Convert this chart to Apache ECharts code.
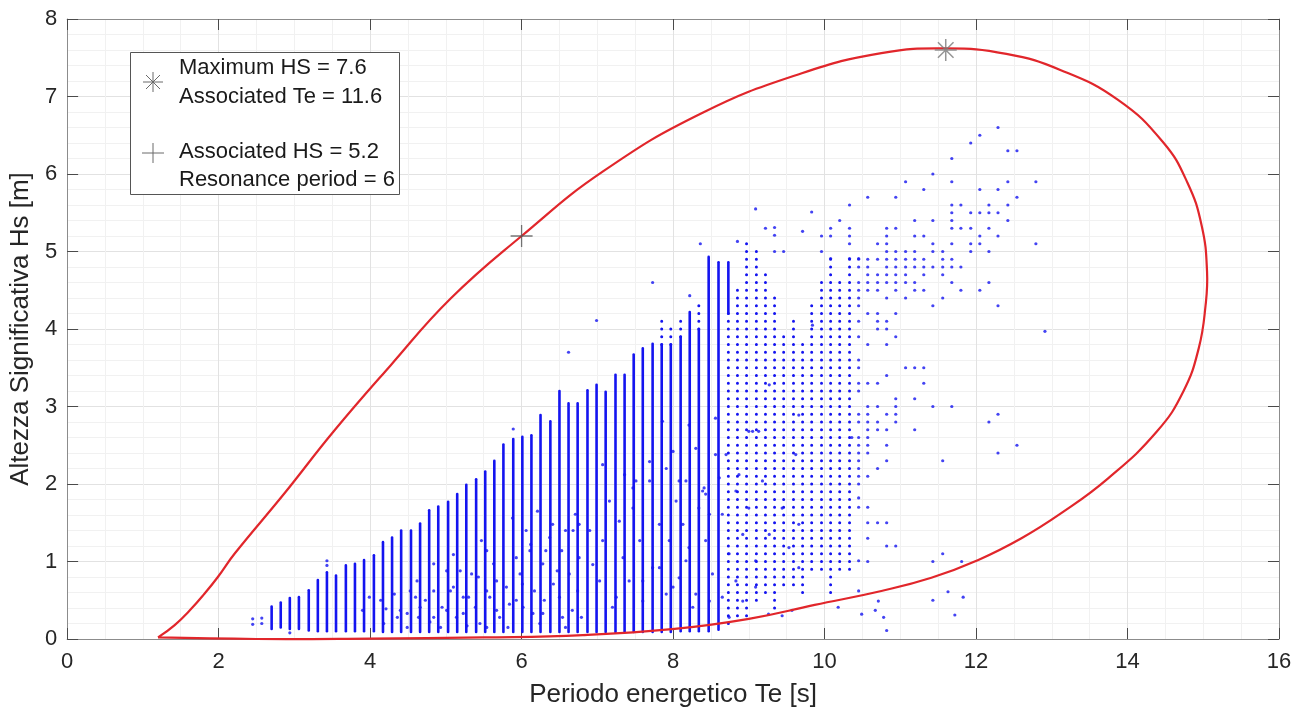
<!DOCTYPE html>
<html><head><meta charset="utf-8">
<script src="https://cdn.jsdelivr.net/npm/echarts@6/dist/echarts.min.js"></script>
<style>html,body{margin:0;padding:0;background:#fff}#c{width:1298px;height:713px}</style>
</head><body><div id="c"></div>
<script>
// ---- Contour (red) ----
const contourTe = [1.20,1.42,1.62,1.81,1.99,2.21,2.87,3.52,4.27,5.06,6.00,7.07,8.39,9.70,10.75,11.60,12.40,13.12,13.87,14.47,14.79,14.98,15.05,15.03,14.94,14.74,14.39,13.74,13.12,12.60,12.03,11.41,10.75,9.87,9.00,8.02,6.81,5.50,4.00,2.50,1.20];
const contourHs = [0.02,0.18,0.37,0.58,0.80,1.10,1.88,2.68,3.53,4.39,5.20,6.03,6.79,7.30,7.56,7.62,7.55,7.34,6.96,6.41,5.89,5.33,4.74,4.30,3.75,3.20,2.68,2.07,1.62,1.30,1.02,0.79,0.62,0.44,0.26,0.13,0.05,0.02,0.005,0.00,0.02];

// ---- Dense sea-state columns: Te, lowest Hs, highest Hs of solid run ----
const colTe   = [2.70,2.82,2.94,3.06,3.19,3.31,3.43,3.55,3.68,3.80,3.92,4.05,4.17,4.29,4.41,4.54,4.66,4.78,4.90,5.03,5.15,5.27,5.40,5.52,5.64,5.76,5.89,6.01,6.13,6.25,6.38,6.50,6.62,6.74,6.87,6.99,7.11,7.24,7.36,7.48,7.60,7.73,7.85,7.97,8.10,8.22,8.34,8.47,8.60,8.73];
const colLow  = [0.13,0.15,0.13,0.13,0.11,0.10,0.10,0.10,0.10,0.10,0.10,0.10,0.09,0.09,0.09,0.09,0.09,0.09,0.09,0.09,0.09,0.09,0.09,0.09,0.09,0.09,0.09,0.09,0.09,0.09,0.09,0.09,0.09,0.09,0.09,0.09,0.09,0.09,0.09,0.09,0.09,0.09,0.09,0.09,0.10,0.10,0.10,0.10,0.12,4.20];
const colHigh = [0.42,0.47,0.53,0.54,0.63,0.76,0.86,0.82,0.95,0.97,1.02,1.08,1.25,1.31,1.40,1.40,1.49,1.66,1.71,1.77,1.87,1.99,2.06,2.16,2.30,2.51,2.58,2.61,2.63,2.89,2.81,3.20,3.04,3.04,3.21,3.28,3.19,3.41,3.41,3.67,3.75,3.81,3.80,3.80,3.90,4.22,4.00,4.93,4.86,4.86];

// ---- Dotted runs (states every 0.1 m): Te, from Hs, to Hs ----
const runTe   = [7.85,7.97,8.10,8.34,8.73,8.85,8.97,9.10,9.22,9.34,9.46,9.59,9.71,9.83,9.96,10.08,10.20,10.33];
const runFrom = [3.80,3.80,3.90,4.00,0.20,0.30,0.30,0.50,0.60,0.40,0.70,0.70,0.60,0.90,0.90,0.60,0.90,0.90];
const runTo   = [4.10,4.00,4.10,4.30,4.20,4.50,5.10,5.00,4.70,4.40,3.90,4.10,3.80,4.30,4.60,4.90,4.60,4.90];

// ---- Single points [Te, Hs] ----
const singlePts = [
 [2.45,0.19],[2.45,0.26],[2.57,0.20],[2.57,0.27],[2.94,0.08],[3.43,0.95],[3.43,1.01],[5.89,2.71],[6.62,3.70],[6.99,4.11],[7.73,4.60],[8.22,4.43],
 [3.90,0.37],[3.99,0.54],[4.14,0.50],[4.21,0.39],[4.32,0.58],[4.36,0.28],[4.49,0.33],[4.60,0.54],[4.62,0.75],[4.66,0.41],[4.84,0.97],[4.84,0.28],
 [4.93,0.15],[5.01,0.37],[5.10,1.09],[5.10,0.67],[5.19,0.88],[5.23,0.33],[5.30,0.54],[5.43,0.80],[5.47,1.27],[5.54,0.15],[5.58,0.54],[5.67,0.75],
 [5.71,0.28],[5.84,0.45],[5.88,1.56],[5.93,1.05],[6.01,0.71],[6.06,1.40],[6.12,1.22],[6.15,0.33],[6.21,1.65],[6.30,0.50],[6.32,1.14],[6.41,1.48],
 [6.47,0.88],[6.54,0.28],[6.58,1.40],[6.67,0.37],[6.71,1.61],[6.76,1.05],
 [4.53,0.62],[4.64,0.28],[4.73,0.50],[4.79,0.22],[4.95,0.41],[5.06,0.62],[5.14,0.28],[5.28,0.17],[5.34,0.84],[5.39,0.41],[5.54,0.62],[5.63,0.97],
 [5.67,0.37],[5.80,0.67],[5.82,0.15],[5.98,0.84],[6.02,0.41],[6.11,1.14],[6.17,0.62],[6.24,0.20],[6.28,0.97],[6.37,1.31],[6.42,0.71],[6.50,0.54],
 [6.53,1.14],[6.63,0.84],[6.68,1.40],[6.74,0.62],[6.79,0.28],[4.18,0.20],[4.40,0.37],[4.49,0.15],[4.84,0.62],[5.01,0.88],[5.23,0.54],[5.54,1.14],
 [5.45,0.20],[5.93,0.50],[6.28,0.33],[6.58,0.15],[6.76,1.48],
 [6.90,1.40],[6.94,0.96],[7.03,0.75],[7.07,1.27],[7.16,1.78],[7.20,0.41],[7.29,1.52],[7.34,1.05],[7.42,0.75],[7.47,1.69],[7.56,1.27],[7.60,0.49],
 [7.69,2.04],[7.73,0.92],[7.82,1.48],[7.91,0.58],[7.95,1.27],[8.04,1.78],[8.08,0.79],[8.17,2.04],[8.21,1.18],[8.30,0.58],[8.34,1.69],[8.41,1.95],
 [8.43,1.27],[8.52,0.84],[8.56,2.38],[8.65,1.61],[8.74,1.10],[8.83,0.75],[8.92,1.35],[9.00,1.69],[9.09,1.01],[9.18,2.04],[9.27,1.35],[9.44,1.69],
 [9.53,1.18],[9.66,1.48],
 [7.07,2.25],[7.36,2.12],[7.51,2.04],[7.47,1.95],[7.69,2.29],[7.86,2.81],[7.91,2.20],[8.00,2.42],[8.08,2.04],[8.13,1.48],[8.21,2.76],[8.30,2.46],
 [8.39,1.91],[8.43,1.87],[8.48,1.61],[8.56,2.85],[8.61,2.08],[8.70,2.38],[8.83,1.91],[8.87,2.12],[9.00,2.68],[9.05,2.68],[9.13,2.68],[9.27,3.28],
 [9.62,2.38],[9.66,2.89],[9.84,4.05],[7.25,0.54],[7.60,0.75],[7.82,0.92],[8.00,0.67],[8.17,1.01],[8.26,0.41],[8.48,0.49],[8.65,0.54],[8.74,0.28],
 [8.92,0.49],[9.09,0.67],[9.26,0.32],[9.44,0.30],[9.57,0.37],[9.66,0.92],[10.18,0.41],[10.49,0.32],[10.67,0.37],[10.71,0.49],[10.78,0.28],[10.82,0.11],
 [11.43,1.00],[11.56,1.10],[11.81,1.00],[11.63,0.61],[11.43,0.50],[11.83,0.54],[11.72,0.31],
 [9.09,5.55],[9.83,5.51],[10.33,5.60],[10.20,5.40],[9.22,5.30],[9.34,5.31],[9.34,5.21],[9.71,5.26],[10.08,5.30],[10.33,5.30],[9.96,5.20],[10.08,5.20],
 [10.33,5.20],[10.33,5.10],[8.36,5.10],[8.85,5.13],[9.34,5.00],[9.46,5.00],[9.96,5.00],[10.08,4.91],[10.33,4.91],[10.45,4.91],
 [10.45,1.82],[10.45,1.70],[10.45,1.01],[10.45,0.62],[10.57,1.70],[10.57,1.50],[10.57,1.30],[10.57,1.00],[10.70,1.50],[10.82,1.20],[10.82,1.50],[10.94,1.20]
];
// ---- Sparse upper-right states by row: Hs, list of Te ----
const rowHs = [6.6,6.5,6.4,6.3,6.2,6.0,5.9,5.8,5.7,5.6,5.5,5.4,5.3,5.2,5.1,5.0,4.9,4.8,4.7,4.6,4.5,4.4,4.3,4.2,4.1,4.0,3.97,3.9,3.8,3.6,3.5,3.4,3.3,3.2,3.1,3.0,2.9,2.8,2.7,2.6,2.5,2.4,2.3,2.2,2.1,2.0];
const rowTe = [
 [12.29],[12.05],[11.93],[12.42,12.54],[11.68],[11.43],[11.07,11.68,12.42,12.79],[11.31,12.05,12.29],[10.57,10.94,12.54],[11.68,11.80,12.17,12.42],
 [11.68,11.93,12.05,12.17,12.29],[11.19,11.43,11.68,12.42],[10.82,10.94,11.68,11.80,11.93,12.17],[10.82,11.19,11.31,12.05,12.29],
 [10.70,10.82,11.43,11.68,11.93,12.05,12.79],[10.82,10.94,11.07,11.19,11.43,11.56,11.93,12.17],
 [10.45,10.57,10.70,10.82,10.94,11.07,11.19,11.31,11.56,11.68],[10.45,10.57,10.82,10.94,11.07,11.19,11.31,11.43,11.56,11.68,11.80],
 [10.57,10.70,10.82,10.94,11.07,11.31,11.56],[10.45,10.57,10.70,10.82,10.94,11.07,11.19,11.68,12.17],[10.45,10.57,10.70,10.94,11.19,11.31,11.80,12.05],
 [10.45,10.82,11.07,11.56],[10.45,11.43,12.29],[10.57,10.70,10.94],[10.45,10.70,10.82],[10.70,10.82],[12.91],[10.45,10.94],[10.57,10.82],[10.45],
 [10.45,11.07,11.19,11.31],[10.82],[10.45,10.57,10.70,11.31],[10.45],[10.94,11.19],[10.57,10.70,10.94,11.43,11.68],[10.45,10.57,10.82,10.94,12.29],
 [10.45,10.57,10.70,10.94,12.17],[10.57,10.70,10.82,11.19],[10.36,10.45,10.57],[10.45,10.57,10.82,12.54],[10.45,10.57,12.29],[10.45,10.82,11.56],
 [10.45,10.70],[10.45,10.57],[10.45]
];
// ---- Highlighted points ----
const maxPoint = [11.6, 7.6];
const resPoint = [6.0, 5.2];
const xTicks = {min:0, max:16, step:2};
const yTicks = {min:0, max:8, step:1};

const FONT = '"Liberation Sans", Arial, Helvetica, sans-serif';
const BLUE = '#1414f0';

const contourData = contourTe.map((t,i)=>[t, contourHs[i]]);
const colData = colTe.map((t,i)=>[t, colLow[i], colHigh[i]]);
const runData = runTe.map((t,i)=>[t, runFrom[i], runTo[i]]);
const ptData = singlePts.slice();
rowHs.forEach((h,i)=>rowTe[i].forEach(t=>ptData.push([t,h])));

const chart = echarts.init(document.getElementById('c'), null, {renderer:'canvas'});
const axisCommon = {
  type:'value',
  axisLine:{show:true, onZero:false, lineStyle:{color:'#8c8c8c', width:1}},
  axisTick:{show:true, inside:true, length:11, lineStyle:{color:'#4a4a4a', width:1}},
  splitLine:{show:false},
  minorSplitLine:{show:false}
};
const ASTER = 'path://M12,0L12,24M0,12L24,12M3.5,3.5L20.5,20.5M3.5,20.5L20.5,3.5';
const PLUS = 'path://M12,0L12,24M0,12L24,12';
const LG = {stroke:'#6a6a6a', lineWidth:1};

const option = {
  backgroundColor:'#fff',
  animation:false,
  grid:{left:62, right:19, top:19, bottom:71, containLabel:false},
  xAxis:[
    Object.assign({}, axisCommon, {
      min:xTicks.min, max:xTicks.max, interval:xTicks.step, position:'bottom',
      axisLabel:{show:true, fontSize:22, color:'#262626', margin:12, fontFamily:FONT, showMinLabel:true, showMaxLabel:true},
      splitLine:{show:true, lineStyle:{color:'#e2e2e2', width:1}},
      minorTick:{show:false, splitNumber:4},
      minorSplitLine:{show:true, lineStyle:{color:'#f1f1f1', width:1}},
      name:'Periodo energetico Te [s]', nameLocation:'middle', nameGap:43,
      nameTextStyle:{fontSize:26, color:'#262626', fontFamily:FONT}
    }),
    Object.assign({}, axisCommon, {min:xTicks.min, max:xTicks.max, interval:xTicks.step, position:'top', axisLabel:{show:false}})
  ],
  yAxis:[
    Object.assign({}, axisCommon, {
      min:yTicks.min, max:yTicks.max, interval:yTicks.step, position:'left',
      axisLabel:{show:true, fontSize:22, color:'#262626', margin:10, fontFamily:FONT, showMinLabel:true, showMaxLabel:true},
      splitLine:{show:true, lineStyle:{color:'#e2e2e2', width:1}},
      minorTick:{show:false, splitNumber:5},
      minorSplitLine:{show:true, lineStyle:{color:'#f1f1f1', width:1}},
      name:'Altezza Significativa Hs [m]', nameLocation:'middle', nameGap:24,
      nameTextStyle:{fontSize:26, color:'#262626', fontFamily:FONT}
    }),
    Object.assign({}, axisCommon, {min:yTicks.min, max:yTicks.max, interval:yTicks.step, position:'right', axisLabel:{show:false}})
  ],
  series:[
    {
      type:'custom', name:'cols', data:colData, xAxisIndex:0, yAxisIndex:0, z:2,
      encode:{x:0, y:[1,2]},
      renderItem:(params, api)=>{
        const p1 = api.coord([api.value(0), api.value(1)]);
        const p2 = api.coord([api.value(0), api.value(2)]);
        return {type:'line', shape:{x1:p1[0], y1:p1[1], x2:p2[0], y2:p2[1]},
          style:{stroke:BLUE, lineWidth:2.6, lineCap:'round'}};
      }
    },
    {
      type:'custom', name:'runs', data:runData, xAxisIndex:0, yAxisIndex:0, z:2,
      encode:{x:0, y:[1,2]},
      renderItem:(params, api)=>{
        const p1 = api.coord([api.value(0), api.value(1)]);
        const p2 = api.coord([api.value(0), api.value(2)]);
        const step = api.size([0, 0.1])[1];
        return {type:'line', shape:{x1:p1[0], y1:p1[1], x2:p2[0], y2:p2[1]},
          style:{stroke:BLUE, lineWidth:3, lineCap:'round', lineDash:[0.01, step - 0.01]}};
      }
    },
    {
      type:'scatter', name:'states', data:ptData, symbol:'circle', symbolSize:3.2, z:3,
      itemStyle:{color:BLUE}, silent:true
    },
    {
      type:'custom', name:'contour', data:contourData, z:5, silent:true,
      encode:{x:0, y:1},
      renderItem:(params, api)=>{
        if (params.dataIndex !== 0) return null;
        const pts = contourData.map(d=>api.coord(d));
        return {type:'polyline', shape:{points:pts, smooth:0.45},
          style:{stroke:'#e1262b', lineWidth:2.2, fill:null, lineJoin:'round'}};
      }
    },
    {
      type:'scatter', name:'max', data:[maxPoint], symbol:ASTER, symbolSize:22, z:6,
      itemStyle:{color:'rgba(0,0,0,0)', borderColor:'#7a7a7a', borderWidth:1.5}
    },
    {
      type:'scatter', name:'res', data:[resPoint], symbol:PLUS, symbolSize:22, z:6,
      itemStyle:{color:'rgba(0,0,0,0)', borderColor:'#555', borderWidth:1.3}
    }
  ],
  graphic:[
    {type:'rect', z:100, shape:{x:130.5, y:52.5, width:269, height:142}, style:{fill:'#fff', stroke:'#555', lineWidth:1}},
    {type:'line', z:110, shape:{x1:153,y1:72,x2:153,y2:92}, style:LG},
    {type:'line', z:110, shape:{x1:143,y1:82,x2:163,y2:82}, style:LG},
    {type:'line', z:110, shape:{x1:146,y1:75,x2:160,y2:89}, style:LG},
    {type:'line', z:110, shape:{x1:146,y1:89,x2:160,y2:75}, style:LG},
    {type:'line', z:110, shape:{x1:153,y1:143,x2:153,y2:163}, style:LG},
    {type:'line', z:110, shape:{x1:142,y1:153,x2:164,y2:153}, style:LG},
    {type:'text', z:110, x:179, y:68, style:{text:'Maximum HS = 7.6', font:'22px '+FONT, fill:'#1a1a1a', verticalAlign:'middle'}},
    {type:'text', z:110, x:179, y:97, style:{text:'Associated Te = 11.6', font:'22px '+FONT, fill:'#1a1a1a', verticalAlign:'middle'}},
    {type:'text', z:110, x:179, y:152, style:{text:'Associated HS = 5.2', font:'22px '+FONT, fill:'#1a1a1a', verticalAlign:'middle'}},
    {type:'text', z:110, x:179, y:180, style:{text:'Resonance period = 6', font:'22px '+FONT, fill:'#1a1a1a', verticalAlign:'middle'}}
  ]
};
chart.setOption(option);
</script></body></html>
